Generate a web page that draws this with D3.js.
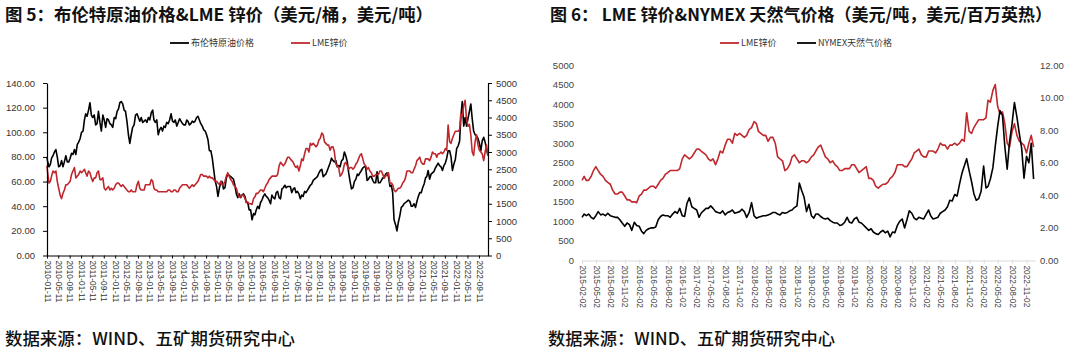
<!DOCTYPE html>
<html><head><meta charset="utf-8">
<script src="https://cdn.jsdelivr.net/npm/d3@7"></script>
<style>body{margin:0;background:#fff;} svg{display:block;}</style>
</head><body>
<svg id="c" width="1080" height="354"></svg>
<script>
// ---------- DATA (semi-monthly observations: 1st and 16th of each month) ----------
// Brent crude, USD/bbl, 2010-01 .. 2022-12
const brentValues = [
  80,77, 72,74, 79,81, 84,86, 80,72, 73,77, 72,76, 81,76, 76,79, 83,82, 86,82, 90,92,          // 2010
  95,100, 101,110, 115,113, 118,124, 114,112, 114,106, 107,117, 108,101, 114,110, 104,111, 110,107, 106,104, // 2011
  112,111, 117,119, 124,125, 123,118, 117,109, 98,91, 98,104, 106,114, 115,112, 109,112, 108,109, 110,108, // 2012
  112,110, 116,118, 110,108, 110,98, 102,104, 101,105, 104,108, 107,110, 115,109, 108,110, 105,108, 111,109, // 2013
  107,106, 106,110, 109,106, 107,109, 108,109, 112,113, 110,107, 105,102, 101,98, 94,85, 85,79, 70,61,  // 2014
  56,48, 55,60, 60,54, 55,63, 66,65, 64,63, 62,57, 50,47, 50,47, 49,50, 48,43, 43,37,                 // 2015
  37,29, 34,33, 37,40, 38,43, 45,48, 50,48, 47,45, 42,49, 47,46, 51,52, 47,46, 54,55,                 // 2016
  57,55, 56,56, 56,51, 54,55, 51,52, 50,46, 49,48, 52,51, 53,55, 57,58, 61,62, 63,64,                 // 2017
  67,69, 70,64, 65,66, 69,72, 75,79, 77,76, 77,72, 73,72, 77,78, 84,81, 76,67, 60,54,                 // 2018
  55,60, 62,66, 65,67, 69,71, 72,72, 61,62, 64,64, 61,59, 59,68, 59,59, 61,63, 63,66,                 // 2019
  67,64, 56,57, 51,29, 25,20, 27,32, 39,40, 42,43, 44,45, 44,40, 40,42, 39,44, 48,51,                 // 2020
  51,55, 58,63, 64,69, 62,66, 67,68, 71,73, 75,73, 72,69, 73,75, 79,85, 85,80, 69,74,                 // 2021
  78,87, 89,93, 112,125, 105,112, 105,111, 117,123, 111,101, 98,97, 95,91, 85,93, 96,92, 87,81        // 2022
];
// LME zinc, USD/t, 2010-01 .. 2022-12
const zincValues = [
  2600,2450, 2100,2150, 2300,2450, 2400,2450, 2150,1950, 1750,1650, 1800,1900, 2050,2050, 2100,2150, 2350,2450, 2550,2250, 2300,2350, // 2010
  2450,2400, 2450,2500, 2400,2300, 2450,2400, 2250,2150, 2250,2250, 2400,2450, 2200,2200, 2250,1950, 1900,1950, 2000,1900, 1950,1900, // 2011
  1950,2050, 2100,2100, 2050,2000, 2050,2000, 1950,1900, 1850,1850, 1900,1850, 1850,1850, 2050,2150, 1950,1900, 1900,1900, 2050,2050, // 2012
  2050,2050, 2200,2150, 1950,1900, 1900,1850, 1850,1850, 1850,1850, 1850,1850, 1900,1900, 1850,1850, 1900,1900, 1850,1850, 1950,2000, // 2013
  2050,2050, 2050,2050, 2000,1950, 2000,2050, 2000,2050, 2100,2150, 2250,2350, 2350,2300, 2300,2300, 2250,2300, 2250,2250, 2200,2150, // 2014
  2150,2100, 2050,2150, 2050,2050, 2150,2300, 2400,2300, 2200,2150, 2050,2000, 1950,1800, 1700,1700, 1750,1750, 1650,1550, 1550,1500, // 2015
  1500,1480, 1650,1700, 1800,1800, 1850,1900, 1900,1850, 1950,2050, 2100,2200, 2250,2300, 2300,2300, 2300,2350, 2600,2700, 2650,2600, // 2016
  2650,2750, 2850,2850, 2800,2750, 2700,2600, 2550,2600, 2450,2600, 2800,2750, 2950,3100, 3100,3000, 3250,3200, 3250,3200, 3150,3200, // 2017
  3350,3400, 3550,3500, 3300,3250, 3200,3200, 3050,3150, 3150,3000, 2650,2600, 2550,2300, 2350,2450, 2650,2700, 2600,2500, 2550,2550, // 2018
  2500,2550, 2650,2700, 2800,2900, 2950,2800, 2650,2600, 2500,2550, 2450,2400, 2300,2300, 2350,2350, 2350,2450, 2450,2350, 2250,2300, // 2019
  2350,2400, 2100,2100, 2050,1900, 1850,1900, 1950,1950, 2000,2100, 2150,2250, 2450,2450, 2450,2400, 2400,2500, 2600,2750, 2800,2850, // 2020
  2700,2650, 2650,2800, 2800,2800, 2750,2850, 3000,2950, 2950,2850, 2950,2950, 3000,2950, 3000,3100, 3050,3780, 3300,3250, 3400,3500, // 2021
  3600,3600, 3600,3650, 4100,4050, 4350,4500, 3950,3750, 3800,3500, 3000,2900, 3300,3500, 3200,3050, 3000,2950, 2750,3000, 3200,2900  // 2022
];
// NYMEX natural gas, USD/MMBtu, 2015-02 .. 2022-12
const ngValues = [
  2.65,2.85, 2.75,2.85, 2.65,2.55, 2.75,3.0, 2.8,2.85, 2.75,2.9, 2.75,2.7, 2.65,2.65, 2.5,2.3, 2.1,2.3, 2.2,1.85, // 2015 (Feb-Dec)
  2.35,2.15, 2.1,1.8, 1.65,1.85, 1.95,2.0, 2.0,2.05, 2.5,2.7, 2.8,2.75, 2.75,2.65, 2.85,3.0, 2.9,3.2, 2.75,2.7, 3.5,3.85, // 2016
  3.3,3.2, 3.1,2.65, 2.9,3.05, 3.2,3.2, 3.35,3.2, 3.0,2.95, 2.9,3.05, 2.8,2.95, 3.0,3.1, 2.9,2.95, 3.0,3.15, 3.0,2.65, // 2017
  2.95,3.55, 2.75,2.6, 2.65,2.7, 2.75,2.75, 2.8,2.85, 2.95,2.95, 2.85,2.8, 2.95,2.9, 2.95,3.05, 3.1,3.25, 3.35,4.75, 4.3,3.9, // 2018
  3.0,3.45, 2.75,2.6, 2.85,2.85, 2.7,2.6, 2.55,2.6, 2.45,2.35, 2.3,2.3, 2.15,2.2, 2.35,2.65, 2.35,2.3, 2.55,2.65, 2.35,2.3, // 2019
  2.15,2.0, 1.85,1.95, 1.75,1.65, 1.6,1.75, 1.85,1.7, 1.8,1.45, 1.75,1.7, 2.15,2.4, 2.55,2.0, 2.5,3.05, 2.9,2.6, 2.5,2.65, // 2020
  2.6,2.55, 2.85,3.1, 2.75,2.55, 2.6,2.65, 2.9,3.0, 3.1,3.3, 3.7,3.65, 4.05,3.95, 4.7,5.35, 5.8,6.25, 5.5,4.85, 4.1,3.7, // 2021
  3.8,4.25, 5.8,4.45, 4.55,5.0, 5.7,7.0, 8.2,9.2, 8.9,7.0, 5.6,7.3, 8.4,9.7, 8.8,7.8, 6.9,5.05, 6.4,6.0, 7.2,5.0       // 2022
];

const leftXTicks = ["2010-01-11","2010-05-11","2010-09-11","2011-01-11","2011-05-11","2011-09-11","2012-01-11","2012-05-11","2012-09-11","2013-01-11","2013-05-11","2013-09-11","2014-01-11","2014-05-11","2014-09-11","2015-01-11","2015-05-11","2015-09-11","2016-01-11","2016-05-11","2016-09-11","2017-01-11","2017-05-11","2017-09-11","2018-01-11","2018-05-11","2018-09-11","2019-01-11","2019-05-11","2019-09-11","2020-01-11","2020-05-11","2020-09-11","2021-01-11","2021-05-11","2021-09-11","2022-01-11","2022-05-11","2022-09-11"];
const rightXTicks = ["2015-02-02","2015-05-02","2015-08-02","2015-11-02","2016-02-02","2016-05-02","2016-08-02","2016-11-02","2017-02-02","2017-05-02","2017-08-02","2017-11-02","2018-02-02","2018-05-02","2018-08-02","2018-11-02","2019-02-02","2019-05-02","2019-08-02","2019-11-02","2020-02-02","2020-05-02","2020-08-02","2020-11-02","2021-02-02","2021-05-02","2021-08-02","2021-11-02","2022-02-02","2022-05-02","2022-08-02","2022-11-02"];
const leftYTicks = [0,20,40,60,80,100,120,140];
const leftY2Ticks = [0,500,1000,1500,2000,2500,3000,3500,4000,4500,5000];
const rightYTicks = [0,500,1000,1500,2000,2500,3000,3500,4000,4500,5000];
const rightY2Ticks = [0,2,4,6,8,10,12];

const titles = ["图 5：布伦特原油价格&LME 锌价（美元/桶，美元/吨）","图 6： LME 锌价&NYMEX 天然气价格（美元/吨，美元/百万英热）"];
const sourceText = "数据来源：WIND、五矿期货研究中心";
const leftLegend = ["布伦特原油价格","LME锌价"];
const rightLegend = ["LME锌价","NYMEX天然气价格"];

// ---------- helpers ----------
const parse = d3.timeParse("%Y-%m-%d");
const semiDate = (y0, m0, i) => { const k = m0*2 + i; return new Date(y0 + Math.floor(k/24), Math.floor(k/2)%12, k%2 ? 16 : 1); };
const brent = brentValues.map((v,i)=>({date: semiDate(2010,0,i), v}));
const zinc = zincValues.map((v,i)=>({date: semiDate(2010,0,i), v}));
const ng = ngValues.map((v,i)=>({date: semiDate(2015,1,i), v}));
const zincRight = zinc.filter(d => d.date >= new Date(2015,1,1));

const RED = "#C0272D", BLACK = "#000";
const svg = d3.select("#c");
const CJK = "'Noto Sans CJK SC','Noto Sans',sans-serif";
const NUM = "'Liberation Sans',Arial,sans-serif";

// titles
svg.append("text").attr("x",5).attr("y",21).attr("font-family",CJK).attr("font-weight",700)
  .attr("font-size",17).attr("textLength",428).attr("lengthAdjust","spacingAndGlyphs").attr("fill","#111").text(titles[0]);
svg.append("text").attr("x",550).attr("y",21).attr("font-family",CJK).attr("font-weight",700)
  .attr("font-size",17).attr("textLength",502).attr("lengthAdjust","spacingAndGlyphs").attr("fill","#111").text(titles[1]);
// sources
[[5,290],[548,287]].forEach(([x,w])=>{
  svg.append("text").attr("x",x).attr("y",345).attr("font-family",CJK).attr("font-weight",500)
    .attr("font-size",17).attr("textLength",w).attr("lengthAdjust","spacingAndGlyphs").attr("fill","#111").text(sourceText);
});

function legendItem(x, y, color, label){
  svg.append("line").attr("x1",x).attr("x2",x+19).attr("y1",y).attr("y2",y).attr("stroke",color).attr("stroke-width",1.8);
  svg.append("text").attr("x",x+21).attr("y",y).attr("dy","0.35em").attr("font-family",CJK).attr("font-size",9).attr("fill","#333").text(label);
}
legendItem(170,43,BLACK,leftLegend[0]);
legendItem(291,43,RED,leftLegend[1]);
legendItem(720,43,RED,rightLegend[0]);
legendItem(797,43,BLACK,rightLegend[1]);

function styleXLabels(g, color){
  g.selectAll(".tick text").attr("transform","rotate(90)").attr("text-anchor","start")
    .attr("x",5).attr("y",0).attr("dy","0.35em").attr("font-family",NUM).attr("font-size",8.3).attr("fill",color);
}

// ---------- LEFT CHART ----------
{
  const x = d3.scaleTime().domain([parse("2010-01-11"), parse("2022-12-17")]).range([47,488]).clamp(true);
  const y = d3.scaleLinear().domain([0,140]).range([255.5,83]);
  const y2 = d3.scaleLinear().domain([0,5000]).range([255.5,83]);

  const line1 = d3.line().x(d=>x(d.date)).y(d=>y(d.v));
  const line2 = d3.line().x(d=>x(d.date)).y(d=>y2(d.v));
  svg.append("path").datum(brent).attr("d",line1).attr("fill","none").attr("stroke",BLACK).attr("stroke-width",1.6).attr("stroke-linejoin","round");
  svg.append("path").datum(zinc).attr("d",line2).attr("fill","none").attr("stroke",RED).attr("stroke-width",1.6).attr("stroke-linejoin","round");

  const gl = svg.append("g").attr("transform","translate(47,0)")
    .call(d3.axisLeft(y).tickValues(leftYTicks).tickFormat(d3.format(".2f")).tickSize(4).tickSizeOuter(0).tickPadding(8));
  const gr = svg.append("g").attr("transform","translate(488,0)")
    .call(d3.axisRight(y2).tickValues(leftY2Ticks).tickFormat(d3.format("d")).tickSize(4).tickSizeOuter(0).tickPadding(4));
  const gb = svg.append("g").attr("transform","translate(0,255.5)")
    .call(d3.axisBottom(x).tickValues(leftXTicks.map(parse)).tickFormat(d3.timeFormat("%Y-%m-%d")).tickSize(3).tickSizeOuter(0));
  [gl,gr,gb].forEach(g=>{
    g.select(".domain").attr("stroke","#000").attr("stroke-width",1.2);
    g.selectAll(".tick line").attr("stroke","#000");
    g.selectAll(".tick text").attr("font-family",NUM).attr("font-size",9.5).attr("fill","#333");
  });
  styleXLabels(gb,"#333");
}

// ---------- RIGHT CHART ----------
{
  const x = d3.scaleTime().domain([parse("2015-02-02"), parse("2022-12-25")]).range([582,1035]).clamp(true);
  const y = d3.scaleLinear().domain([0,5000]).range([260.5,65]);
  const y2 = d3.scaleLinear().domain([0,12]).range([260.5,65]);

  const gb = svg.append("g").attr("transform","translate(0,260.5)")
    .call(d3.axisBottom(x).tickValues(rightXTicks.map(parse)).tickFormat(d3.timeFormat("%Y-%m-%d")).tickSize(3).tickSizeOuter(0));
  gb.select(".domain").attr("stroke","#d9d9d9").attr("stroke-width",1);
  gb.selectAll(".tick line").attr("stroke","#d9d9d9");
  styleXLabels(gb,"#444");

  const line1 = d3.line().x(d=>x(d.date)).y(d=>y(d.v));
  const line2 = d3.line().x(d=>x(d.date)).y(d=>y2(d.v));
  svg.append("path").datum(zincRight).attr("d",line1).attr("fill","none").attr("stroke",RED).attr("stroke-width",1.6).attr("stroke-linejoin","round");
  svg.append("path").datum(ng).attr("d",line2).attr("fill","none").attr("stroke",BLACK).attr("stroke-width",1.6).attr("stroke-linejoin","round");

  const gl = svg.append("g").attr("transform","translate(582,0)")
    .call(d3.axisLeft(y).tickValues(rightYTicks).tickFormat(d3.format("d")).tickSize(0).tickPadding(8));
  const gr = svg.append("g").attr("transform","translate(1035,0)")
    .call(d3.axisRight(y2).tickValues(rightY2Ticks).tickFormat(d3.format(".2f")).tickSize(0).tickPadding(5));
  [gl,gr].forEach(g=>{
    g.select(".domain").remove();
    g.selectAll(".tick text").attr("font-family",NUM).attr("font-size",9.5).attr("fill","#444");
  });
}
</script>
</body></html>
